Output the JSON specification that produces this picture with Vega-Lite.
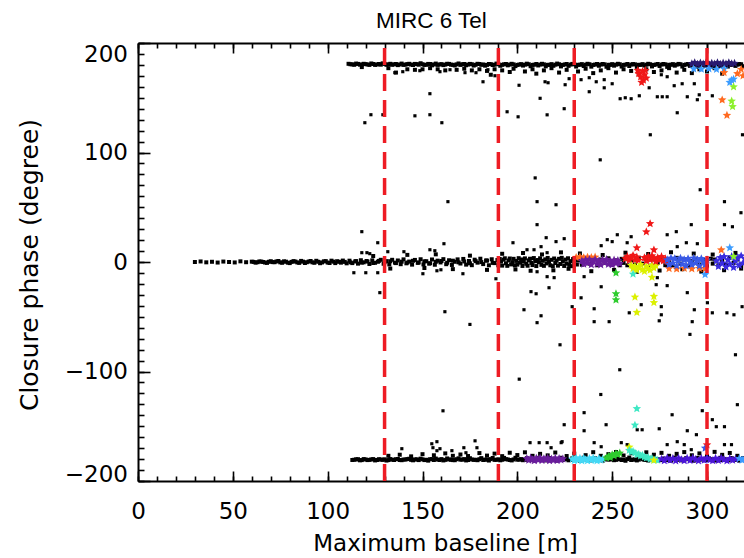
{
  "$schema": "https://vega.github.io/schema/vega-lite/v6.json",
  "width": 606,
  "height": 438,
  "autosize": {"type": "none"},
  "padding": {"left": 138, "top": 43, "right": 0, "bottom": 77},
  "background": "white",
  "title": {"text": "MIRC 6 Tel", "anchor": "start", "frame": "group", "dx": 238, "offset": -9, "baseline": "alphabetic", "font": "Liberation Sans", "fontSize": 22.5, "fontWeight": "normal", "color": "black"},
  "config": {
    "view": {"stroke": null},
    "axis": {"grid": false, "domainColor": "black", "tickColor": "black", "labelColor": "black", "titleColor": "black", "labelFont": "DejaVu Sans", "titleFont": "DejaVu Sans", "titleFontWeight": "normal", "domainWidth": 2, "tickWidth": 1.6, "labelOverlap": false, "labelFlush": false}
  },
  "resolve": {"axis": {"x": "independent", "y": "independent"}},
  "layer": [
    {
      "data": {"values": "b,p\n30,0\n33,0.5\n36,-0.3\n39,0.2\n42,-0.5\n45,0.4\n48,0\n51,-0.4\n54,0.6\n57,-0.2\n60,0.3\n61,0.1\n62,-0.6\n63,-0.2\n64,0.5\n65,0.4\n66,0\n67,-0.5\n68,-0.8\n69,0.2\n70,0.7\n71,-0.1\n72,-0.2\n73,0.5\n74,0.9\n75,-0.3\n76,-0.7\n77,0.6\n78,0.3\n79,-0.6\n80,-1\n81,0.1\n82,0.8\n83,0.4\n84,-0.4\n85,-0.8\n86,1\n87,0.3\n88,-0.9\n89,-0.2\n90,0.4\n91,0.9\n92,-0.3\n93,-0.7\n94,1.1\n95,0.2\n96,-1.1\n97,-0.4\n98,0.6\n99,0.8\n100,-0.5\n101,-0.9\n102,1.2\n103,0.3\n104,-1\n105,0.7\n106,0.2\n107,-0.6\n108,1.3\n109,0.1\n110,-1.2\n111.5,1.2\n113,-1\n114.5,0.5\n116,-1.5\n117.5,1.6\n119,-0.3\n120.5,0.9\n122,-1.8\n123.5,1.5\n125,-0.7\n126.5,0.2\n128,2\n129.5,-1.6\n131,0.8\n132.5,-2.2\n134,2\n135.5,-0.6\n137,1.4\n138.5,-2\n140,2.4\n141.5,-1.2\n143,0.4\n144.5,-2.4\n146,1.9\n147.5,-0.8\n149,2.5\n150.5,-2.2\n152,0.7\n153.5,-1.5\n155,2.3\n156.5,-2.5\n158,1.2\n159.5,-0.4\n161,2.6\n162.5,-2\n164,1.6\n165.5,-2.7\n167,0.2\n168.5,2.4\n170,-1.4\n171.5,2.8\n173,-2.4\n174.5,0.9\n176,-2.9\n177.5,2.1\n179,-0.6\n180.5,3\n182,-1.9\n183.5,1.4\n185,-3\n186.5,2.5\n188,-1\n189.5,1.8\n112,-0.3\n115,0.8\n118,-0.6\n121,0.4\n124,-0.9\n127,1\n130,-0.2\n133,0.7\n136,-1\n139,0.3\n142,-0.5\n145,1.1\n148,-0.4\n151,0.6\n154,-1.1\n157,0.2\n160,0.9\n163,-0.7\n166,1.2\n169,-0.3\n172,0.5\n175,-1.2\n178,0.8\n181,-0.1\n184,1.3\n187,-0.8\n190,-3\n190.7,2.8\n191.4,0.4\n192,-3.3\n192.7,2.1\n193.4,3.4\n194,-1.2\n194.7,-3.5\n195.4,1.4\n196,3.2\n196.7,-2.2\n197.4,-0.2\n198,2.9\n198.7,-3.1\n199.4,1\n200,-2.4\n200.7,3.5\n201.4,-0.6\n202,2.3\n202.7,-3.6\n203.4,0.3\n204,3.3\n204.7,-1.6\n205.4,-3.4\n206,1.5\n206.7,3\n207.4,-0.8\n208,-2.8\n208.7,3.6\n209.4,0.7\n210,-3.7\n210.7,1.8\n211.4,-0.2\n212,3.4\n212.7,-2.6\n213.4,1.1\n214,-3.5\n214.7,2.4\n215.4,-1.3\n216,3.7\n216.7,0.1\n217.4,-3\n218,2\n218.7,-3.8\n219.4,3.2\n220,-0.9\n220.7,1.3\n221.4,-3.3\n222,2.9\n222.7,-1.8\n223.4,3.8\n224,0.5\n224.7,-3.6\n225.4,2.2\n226,-1.5\n226.7,3.4\n227.4,-2.7\n228,0.8\n228.7,-3.8\n229.4,2.7\n230,-0.4\n230.7,3.6\n231.4,-2.3\n232,1.5\n234,-2.5\n236,3\n238,-1.5\n240,0.8\n242,-3\n244,2.3\n246,-0.8\n248,3.4\n250,-2.7\n252,1.5\n254,-3\n255,2.9\n256,-0.8\n257,3.4\n258,-3\n260,1.5\n262,-2.3\n264,3.8\n266,-1.5\n268,3\n270,-3.4\n272,2.3\n274,-0.8\n276,3.5\n278,-2.9\n280,1.5\n282,-3\n284,3.8\n286,-1.5\n288,2.3\n290,-3.4\n292,0.8\n294,3\n296,-2.3\n298,1.9\n300,-3.8\n302,3\n303,-1.5\n304,2.3\n306,-3\n308,1.5\n310,-2.3\n312,3.8\n314,-0.8\n316,2.3\n318,-3\n124,5.5\n133,-6\n142,6.5\n151,-5.5\n157,7\n166,-6.5\n175,5.8\n184,-7.2\n192,7.5\n199,-6.8\n203,8.2\n207,-8\n213,6.9\n219,-7.6\n223,8.8\n227,-6.2\n233,7.8\n239,-8.4\n245,6.4\n251,-7.2\n257,8.5\n263,-9\n269,7.3\n275,-7.8\n281,8.9\n287,-6.6\n293,7.7\n297,-8.8\n303,6.8\n309,-7.5\n315,8.3\n318,-6\n111,181\n113,180.5\n115,181.2\n117,180.2\n119,181\n121,180.4\n123,181.3\n125,180\n127,180.8\n129,181.4\n131,180.1\n133,181\n135,180.5\n137,179.8\n139,181.2\n141,180.3\n143,181\n145,179.9\n147,180.7\n149,181.5\n151,180\n153,180.9\n155,179.6\n157,181.2\n159,180.4\n161,179.8\n163,181\n165,180.2\n167,179.5\n169,181.3\n171,180.6\n173,179.7\n175,180.9\n177,179.4\n179,181\n181,180.1\n183,179.3\n185,180.8\n187,179.9\n189,181.2\n191,179.2\n193,180.5\n195,179.6\n197,181\n199,178.9\n201,180.3\n203,179.4\n205,181.1\n207,178.8\n209,180.2\n211,179.5\n213,181\n215,178.7\n217,180\n219,179.2\n221,181.2\n223,178.6\n225,180.4\n227,179.1\n229,180.9\n231,178.5\n233,180.1\n235,179\n237,181\n239,178.4\n241,180.3\n243,179.2\n245,180.8\n247,178.3\n249,180\n251,179.3\n253,181\n255,178.5\n257,180.2\n259,179\n261,180.7\n263,178.2\n265,180\n267,179.4\n269,181\n271,178.6\n273,180.3\n275,179\n277,180.8\n279,178.2\n281,180.1\n283,179.3\n285,180.9\n287,178.5\n289,180.4\n291,179.1\n293,180.6\n295,178.4\n297,180\n299,179.2\n301,180.7\n303,178.6\n305,180.3\n307,179\n309,180.6\n311,178.5\n313,180.2\n315,179.1\n317,180.8\n319,178.8\n112,180.6\n114,180.1\n116,180.9\n118,180.3\n120,180.7\n122,180\n124,180.8\n126,180.4\n128,180.2\n130,180.9\n132,180.5\n134,180.1\n136,180.8\n138,180.4\n140,180\n142,180.7\n144,180.3\n146,180.9\n148,180.2\n150,180.6\n152,180.1\n154,180.8\n156,180.4\n158,180\n160,180.7\n162,180.3\n164,180.9\n166,180.1\n168,180.5\n170,180\n172,180.8\n174,180.3\n176,180.6\n178,180.1\n180,180.8\n182,180.4\n184,180\n186,180.7\n188,180.2\n190,180.6\n192,180.1\n194,180.8\n196,180.3\n198,180.5\n200,180\n202,180.7\n204,180.2\n206,180.6\n208,180\n210,180.8\n212,180.3\n214,180.5\n216,180.1\n218,180.7\n220,180.2\n222,180.6\n224,180\n226,180.8\n228,180.3\n230,180.5\n232,180.1\n234,180.7\n236,180.2\n238,180.6\n240,180\n242,180.8\n244,180.3\n246,180.5\n248,180.1\n250,180.7\n252,180.2\n254,180.6\n256,180\n258,180.8\n260,180.3\n262,180.5\n264,180.1\n266,180.7\n268,180.2\n270,180.6\n272,180\n274,180.8\n276,180.3\n278,180.5\n280,180.1\n282,180.7\n284,180.2\n286,180.6\n288,180\n290,180.8\n292,180.3\n294,180.5\n296,180.1\n298,180.7\n300,180.2\n302,180.6\n304,180\n306,180.8\n308,180.3\n310,180.5\n312,180.1\n314,180.7\n316,180.2\n318,180.6\n118,178\n132,177\n136,173\n142,176\n146,175.5\n150,176\n154,177\n158,176\n162,175\n168,175.5\n172,176.5\n176,175\n180,176\n184,174.5\n186,171\n188,176\n192,175\n196,173.5\n198,176.5\n204,174\n208,176\n210,172\n214,175\n218,177\n222,173\n226,175.5\n232,174\n236,176.5\n240,172.5\n244,175\n248,177\n252,173\n256,176\n260,174.5\n264,172\n268,176\n272,173.5\n276,175\n280,177\n284,173\n288,175.5\n292,172.5\n296,176\n300,174\n304,177\n308,172\n113,-180.8\n115,-180.2\n117,-181.1\n119,-180\n121,-180.9\n123,-180.3\n125,-181.2\n127,-180.1\n129,-180.7\n131,-181.3\n133,-180\n135,-180.8\n137,-179.9\n139,-181\n141,-180.4\n143,-179.7\n145,-181.1\n147,-180.2\n149,-179.6\n151,-180.9\n153,-181.4\n155,-180\n157,-179.5\n159,-180.8\n161,-181.2\n163,-179.4\n165,-180.6\n167,-181\n169,-179.3\n171,-180.5\n173,-181.2\n175,-179.2\n177,-180.7\n179,-181\n181,-179.1\n183,-180.4\n185,-181.3\n187,-179\n189,-180.6\n191,-181.1\n193,-178.9\n195,-180.3\n197,-181.2\n199,-178.8\n201,-180.5\n203,-181\n205,-179.2\n207,-180.6\n209,-181.3\n211,-178.9\n213,-180.4\n215,-181.2\n217,-179\n219,-180.7\n221,-181.4\n223,-178.8\n225,-180.2\n227,-181.1\n229,-179.3\n231,-180.8\n233,-181.5\n235,-178.7\n237,-180.3\n239,-181.2\n241,-179.1\n243,-180.6\n245,-181.4\n247,-178.9\n249,-180.2\n251,-181\n253,-179.4\n255,-180.8\n257,-181.5\n259,-178.6\n261,-180.4\n263,-181.2\n265,-179\n267,-180.7\n269,-181.3\n271,-178.8\n273,-180.1\n275,-181\n277,-179.5\n279,-180.8\n281,-181.4\n283,-178.7\n285,-180.3\n287,-181.2\n289,-179.2\n291,-180.6\n293,-181.5\n295,-178.9\n297,-180.2\n299,-181.1\n301,-179.4\n303,-180.7\n305,-181.3\n307,-178.8\n309,-180.4\n311,-181.2\n313,-179.1\n315,-180.5\n317,-181.4\n319,-179\n114,-180.6\n116,-180.1\n118,-180.9\n120,-180.3\n122,-180.7\n124,-180\n126,-180.8\n128,-180.4\n130,-180.2\n132,-180.9\n134,-180.5\n136,-180.1\n138,-180.8\n140,-180.4\n142,-180\n144,-180.7\n146,-180.3\n148,-180.9\n150,-180.2\n152,-180.6\n154,-180.1\n156,-180.8\n158,-180.4\n160,-180\n162,-180.7\n164,-180.3\n166,-180.9\n168,-180.1\n170,-180.5\n172,-180\n174,-180.8\n176,-180.3\n178,-180.6\n180,-180.1\n182,-180.8\n184,-180.4\n186,-180\n188,-180.7\n190,-180.2\n192,-180.6\n194,-180.1\n196,-180.8\n198,-180.3\n200,-180.5\n202,-180\n204,-180.7\n206,-180.2\n208,-180.6\n210,-180\n212,-180.8\n214,-180.3\n216,-180.5\n218,-180.1\n220,-180.7\n222,-180.2\n224,-180.6\n226,-180\n228,-180.8\n230,-180.3\n232,-180.5\n234,-180.1\n236,-180.7\n238,-180.2\n240,-180.6\n242,-180\n244,-180.8\n246,-180.3\n248,-180.5\n250,-180.1\n252,-180.7\n254,-180.2\n256,-180.6\n258,-180\n260,-180.8\n262,-180.3\n264,-180.5\n266,-180.1\n268,-180.7\n270,-180.2\n272,-180.6\n274,-180\n276,-180.8\n278,-180.3\n280,-180.5\n282,-180.1\n284,-180.7\n286,-180.2\n288,-180.6\n290,-180\n292,-180.8\n294,-180.3\n296,-180.5\n298,-180.1\n300,-180.7\n302,-180.2\n304,-180.6\n306,-180\n308,-180.8\n310,-180.3\n312,-180.5\n314,-180.1\n316,-180.7\n318,-180.2\n132,-177\n138,-176\n144,-177.5\n150,-175.5\n156,-176.5\n162,-174.8\n166,-177\n170,-175.8\n174,-177.2\n180,-174.5\n184,-176.8\n188,-175\n192,-177.3\n196,-174.2\n200,-176.3\n204,-173.8\n208,-177\n212,-175.2\n216,-176.6\n220,-174\n226,-177.2\n230,-175\n236,-176.4\n240,-173.7\n244,-177\n248,-175.5\n252,-173.5\n256,-176.7\n260,-174.6\n264,-177.1\n268,-173.8\n272,-176\n276,-174.3\n280,-177\n284,-175.2\n288,-173.6\n292,-176.5\n296,-174.8\n300,-177.2\n304,-173.4\n308,-176.1\n312,-174.4\n316,-177", "format": {"type": "csv", "parse": {"b": "number", "p": "number"}}},
      "mark": {"type": "point", "shape": "square", "filled": true, "color": "black", "size": 16, "opacity": 1},
      "encoding": {
        "x": {"field": "b", "type": "quantitative", "scale": {"domain": [0, 319.5], "nice": false, "zero": false},
          "axis": {"orient": "bottom", "values": [0, 50, 100, 150, 200, 250, 300], "tickSize": -10, "labelPadding": 29.6, "labelFontSize": 23, "title": "Maximum baseline [m]", "titleFontSize": 23, "titleX": 307, "titleY": 69, "titleBaseline": "alphabetic", "titleAlign": "center"}},
        "y": {"field": "p", "type": "quantitative", "scale": {"domain": [-200, 200], "nice": false},
          "axis": {"orient": "left", "values": [-200, -100, 0, 100, 200], "tickSize": -12, "labelPadding": 22.5, "labelFontSize": 23,
            "labelBaseline": {"condition": [{"test": "datum.value == 200", "value": "top"}, {"test": "datum.value == -200", "value": "alphabetic"}], "value": "middle"},
            "title": "Closure phase (degree)", "titleFontSize": 25, "titleX": -100.5, "titleY": 221.5, "titleAngle": 270, "titleBaseline": "alphabetic", "titleAlign": "center"}}
      }
    },
    {
      "data": {"values": "b,p\n119.6,127.2\n122.8,134.5\n129.1,134.5\n146,133.5\n153.9,134.5\n153.9,153.7\n160.2,127.2\n181.9,164.6\n135.4,172.9\n139.6,173.8\n148.6,174.7\n159.2,173.8\n164.5,175.6\n172.4,172.9\n178.2,172.9\n184.5,175.6\n188.2,170.1\n200.9,161.4\n212,149.5\n194.6,137.2\n200.4,132.6\n215.7,134.4\n224.7,140\n214.6,164.6\n216.2,163.7\n225.2,161.9\n227.3,167.4\n233.6,166.5\n237.9,155.5\n237.9,168.3\n241.6,164.6\n245.8,166.5\n245.8,159.1\n250,162.8\n254.2,149.1\n256.9,150\n260,149.1\n264.3,151.8\n269.5,159.1\n273.8,150.9\n276.4,150.9\n279,150.9\n275.9,171\n279,169.2\n284.3,136.3\n289.6,150.9\n294.9,148.2\n295.9,152.7\n293.3,162.8\n302.8,151.8\n286.9,162.8\n282.7,161\n318.7,116.2\n209.4,76.8\n243.7,93.3\n270.1,116.2\n296.4,66\n175,-57\n222.5,-75.6\n254,-98.4\n291,-66.1\n315,-84.7\n244,-121\n201,-107\n118,27.7\n126.4,17.6\n131.7,9.4\n140.2,9.4\n153.9,11.2\n156.5,10.3\n161.3,16.7\n163.4,55.1\n150.2,-10.7\n157.6,-8\n159.7,-7.1\n171.3,-10.7\n188.7,-15.3\n161.8,-45.4\n127.5,-28\n113.8,-9.8\n120.1,-9.8\n126.4,-9.8\n118,8.5\n120.7,8.5\n122.2,7.6\n210.4,55.1\n220.4,52.3\n210.4,34.1\n215.2,22.2\n220.4,18.6\n224.7,21.3\n197.7,17.6\n205.1,11.2\n208.8,11.2\n212.5,14\n215.7,8.5\n210.4,-8.9\n215.7,-13.4\n219.4,-14.3\n207.2,-27.1\n209.9,-29\n216.7,-23.5\n203.5,-43.6\n212.5,-49.1\n210.4,-55.4\n228.9,-40.8\n233.6,-32.7\n240.5,-42.7\n240.5,-54.5\n248.4,-54.5\n244.2,-22.6\n235.2,-13.4\n250,18.6\n244.2,14.9\n247.4,20.4\n252.7,24.9\n257.9,17.6\n260,23.1\n259,-46.4\n265.3,-39\n275.9,-40.8\n275.9,-48.2\n274.8,-53.7\n273.2,-20.7\n273.8,-14.3\n279,-21.6\n284.3,14\n289.1,17.6\n291.7,34.1\n279,24.9\n283.8,27.7\n294.9,16.7\n289.6,-28\n293.3,-43.6\n292.2,-54.5\n300.2,-37.2\n302.8,-46.4\n309.2,55.1\n309.2,34.1\n313.4,32.2\n310.5,-46.4\n314.2,-48.2\n317.9,45\n318.5,-40.8\n235.2,-137.6\n235.2,-154.1\n224.7,-148.6\n223.6,-164.1\n246.8,-148.6\n263.2,-153.2\n265.8,-153.2\n274.8,-152.3\n281.6,-139.5\n289.6,-154.1\n294.4,-157.7\n297.5,-135.8\n302.8,-144\n304.9,-150.4\n309.2,-150.4\n316,-130.3\n240.5,-165\n244.2,-168.7\n254.8,-165\n257.9,-166.8\n206.7,-165\n211.5,-165\n215.7,-165\n223.1,-165\n217.8,-169.6\n279,-166.8\n284.3,-164.1\n288,-166.8\n291.7,-171.4\n309.2,-166.8\n312.9,-166.8\n160.8,-135.9\n157.6,-164.1\n154.9,-166\n157.6,-172.3\n155.5,-169.6\n139.1,-170.5\n159.2,-170.5\n165.5,-172.3\n171.8,-169.6\n177.7,-163.3\n178.7,-169.6\n172.9,-174.2", "format": {"type": "csv", "parse": {"b": "number", "p": "number"}}},
      "mark": {"type": "point", "shape": "square", "filled": true, "color": "black", "size": 10, "opacity": 1},
      "encoding": {
        "x": {"field": "b", "type": "quantitative", "scale": {"domain": [0, 319.5], "nice": false, "zero": false},
          "axis": {"orient": "top", "values": [0, 10, 20, 30, 40, 50, 60, 70, 80, 90, 100, 110, 120, 130, 140, 150, 160, 170, 180, 190, 200, 210, 220, 230, 240, 250, 260, 270, 280, 290, 300, 310], "tickSize": -5, "labels": false, "domain": true, "title": null}},
        "y": {"field": "p", "type": "quantitative", "scale": {"domain": [-200, 200], "nice": false},
          "axis": {"orient": "left", "values": [-200, -190, -180, -170, -160, -150, -140, -130, -120, -110, -100, -90, -80, -70, -60, -50, -40, -30, -20, -10, 0, 10, 20, 30, 40, 50, 60, 70, 80, 90, 100, 110, 120, 130, 140, 150, 160, 170, 180, 190, 200], "tickSize": -6, "labels": false, "domain": false, "title": null}}
      }
    },
    {
      "data": {"values": "b,p,c\n205,-179.5,pu\n206,-181,pu\n207,-179,pu\n208,-180.5,pu\n209,-181.5,pu\n210,-179.2,pu\n211,-180.8,pu\n212,-179,pu\n213,-181.2,pu\n214,-179.6,pu\n215,-180.6,pu\n216,-179,pu\n217,-181.4,pu\n218,-179.8,pu\n219,-181,pu\n220,-179.1,pu\n221,-181.2,pu\n222,-179.5,pu\n223,-180.7,pu\n224,-179.8,pu\n229,-180,cy\n230,-181.5,cy\n231,-179,cy\n232,-181,cy\n233,-179.3,cy\n234,-181.6,cy\n235,-179.2,cy\n236,-180.6,cy\n237,-181.5,cy\n238,-179.4,cy\n239,-181.1,cy\n240,-179,cy\n241,-180.8,cy\n242,-181.6,cy\n243,-179.5,cy\n244,-181,cy\n245,-179.8,cy\n247,-179,gr\n248,-177.5,gr\n249,-178.5,gr\n250,-176,gr\n251,-177,gr\n252,-175,gr\n253,-176,gr\n254,-174.5,gr\n259,-169,ye\n259,-172,aq\n260,-173.5,aq\n261,-173,aq\n262,-174.5,aq\n263,-176,aq\n264,-175.5,aq\n265,-177,aq\n266,-176.5,aq\n267,-178,aq\n268,-179,aq\n269,-178.5,aq\n270,-180,aq\n271,-179.5,aq\n272,-181,aq\n273,-180.5,aq\n274,-181,aq\n272,-181,ye\n276,-180,vi\n277.5,-181.5,vi\n279,-179,vi\n280.5,-181,vi\n282,-179.5,vi\n283.5,-181.6,vi\n285,-179.1,vi\n286.5,-180.6,vi\n288,-181.5,vi\n289.5,-179.3,vi\n291,-181.2,vi\n292.5,-179,vi\n294,-180.4,vi\n295.5,-181.6,vi\n297,-179.4,vi\n298.5,-181,vi\n300,-179,vi\n301.5,-180.8,vi\n303,-181.5,vi\n304.5,-179.3,vi\n306,-181.2,vi\n307.5,-179.1,vi\n309,-180.6,vi\n310.5,-181.6,vi\n312,-179.5,vi\n313.5,-181,vi\n315,-180,vi\n317,-179.5,sk\n318.5,-181,sk\n320,-179,sk\n231,4.2,or\n233,4.6,or\n235,4,or\n237,4.4,or\n239,4.1,or\n241,4.5,or\n234,1,pu\n235,-2,pu\n236,2,pu\n237,-1,pu\n238,2.4,pu\n239,-2.4,pu\n240,0.5,pu\n241,2.2,pu\n242,-1.8,pu\n243,1,pu\n244,-2.6,pu\n245,2,pu\n246,-0.6,pu\n247,2.4,pu\n248,-2.1,pu\n249,0.7,pu\n250,-2.4,pu\n251,1.8,pu\n252,-1.2,pu\n253,1.5,pu\n254,-1.6,pu\n257,3,re\n258,5,re\n259,1.5,re\n260,4,re\n261,6,re\n262,2,re\n263,4.5,re\n264,1.5,re\n260,-3,ye\n261,-6,ye\n262,-4,ye\n263,-7.5,ye\n264,-5,ye\n265,-2.5,ye\n266,-7,ye\n267,-8.5,ye\n268,-4,ye\n269,-6,ye\n270,-7.5,ye\n271,-3,ye\n272,-5.5,ye\n273,-3.5,ye\n267,4,re\n268,1,re\n269,5,re\n270,2,re\n271,5.5,re\n272,3,re\n273,0.5,re\n274,4,re\n275,2,re\n276,5,re\n277,1,re\n278,3,re\n279,0.5,re\n280,-6,or\n284,-6.3,or\n288,-5.8,or\n292,-6.2,or\n296,-5.9,or\n299,-6.1,or\n279,2,bl\n280,-2.5,bl\n281,3.5,bl\n282,-1,bl\n283,3,bl\n284,-3.5,bl\n285,1,bl\n286,3.5,bl\n287,-2,bl\n288,2,bl\n289,-3.5,bl\n290,3,bl\n291,0,bl\n292,-2.5,bl\n293,3.5,bl\n294,-1,bl\n295,2,bl\n296,-3.5,bl\n297,3,bl\n298,0,bl\n299,-2.5,bl\n300,2,bl\n305,1,db\n306,-4,db\n307,4,db\n308,-1,db\n309,5,db\n310,-4.5,db\n311,2,db\n312,-2,db\n313,5,db\n314,-5,db\n315,1,db\n316,4,db\n317,-3,db\n318,5.5,db\n319,-1,db\n320,3,db\n264,172,re\n265,169,re\n266,174,re\n266.5,166,re\n267,171,re\n268,168,re\n265.5,164,re\n267.5,175,re\n263.5,175,re\n292,181,nv\n293.5,182,nv\n295,180.6,nv\n296.5,181.8,nv\n298,180.9,nv\n299.5,182.1,nv\n301,180.5,nv\n302.5,181.6,nv\n304,180.8,nv\n305.5,182,nv\n307,180.7,nv\n308.5,181.7,nv\n310,180.9,nv\n311.5,182,nv\n313,181,nv\n314.5,181.5,nv\n293,176.3,sk\n297,176.1,sk\n301,176.4,sk\n305,176,sk\n309,176.3,sk\n316,172,or\n318,176,or\n319,170,or\n309,173,or\n313,166,sk\n312,164,sk\n314,167,sk\n313,147,li\n313.5,142,li\n314,160,li\n308,148,or\n310.5,134,or\n270,35,re\n268,27.6,re\n263,13,re\n272,11,re\n252,-10,gr\n252,-29,gr\n252,-34.6,gr\n261,-11,aq\n262,-32,ye\n263,-46,ye\n271,-14,ye\n272,-31.5,ye\n272,-37,ye\n307.5,11,or\n312,13,sk\n299,-11.5,sk\n314,5,li\n263,-134,aq\n262,-149,aq\n300,-167,re\n299,-170,bl", "format": {"type": "csv", "parse": {"b": "number", "p": "number"}}},
      "mark": {"type": "point", "shape": "M0,-1L0.265,-0.364L0.951,-0.309L0.428,0.139L0.588,0.809L0,0.45L-0.588,0.809L-0.428,0.139L-0.951,-0.309L-0.265,-0.364Z", "filled": true, "size": 80, "opacity": 1, "strokeWidth": 0},
      "encoding": {
        "x": {"field": "b", "type": "quantitative", "scale": {"domain": [0, 319.5], "nice": false, "zero": false},
          "axis": {"orient": "bottom", "values": [0, 10, 20, 30, 40, 50, 60, 70, 80, 90, 100, 110, 120, 130, 140, 150, 160, 170, 180, 190, 200, 210, 220, 230, 240, 250, 260, 270, 280, 290, 300, 310], "tickSize": -5, "labels": false, "domain": false, "title": null}},
        "y": {"field": "p", "type": "quantitative", "scale": {"domain": [-200, 200], "nice": false}, "axis": null},
        "color": {"field": "c", "type": "nominal", "legend": null,
          "scale": {"domain": ["pu", "cy", "gr", "aq", "ye", "vi", "sk", "or", "re", "bl", "db", "nv", "li"],
                    "range": ["#6a1e9c", "#45d8f5", "#2ecc2e", "#3ee8c4", "#dcf000", "#4b16d6", "#3c9cff", "#ff6a20", "#f01818", "#3a5ae6", "#3a2ce0", "#2a1a70", "#8cf02c"]}}
      }
    },
    {
      "data": {"values": [{"b": 130}, {"b": 190}, {"b": 230}, {"b": 300}]},
      "mark": {"type": "rule", "color": "#ee1c24", "strokeWidth": 3.5, "strokeDash": [17, 9], "strokeDashOffset": 21},
      "encoding": {
        "x": {"field": "b", "type": "quantitative", "scale": {"domain": [0, 319.5], "nice": false, "zero": false},
          "axis": {"orient": "top", "values": [0, 50, 100, 150, 200, 250, 300], "tickSize": -10, "labels": false, "domain": false, "title": null}}
      }
    }
  ]
}
